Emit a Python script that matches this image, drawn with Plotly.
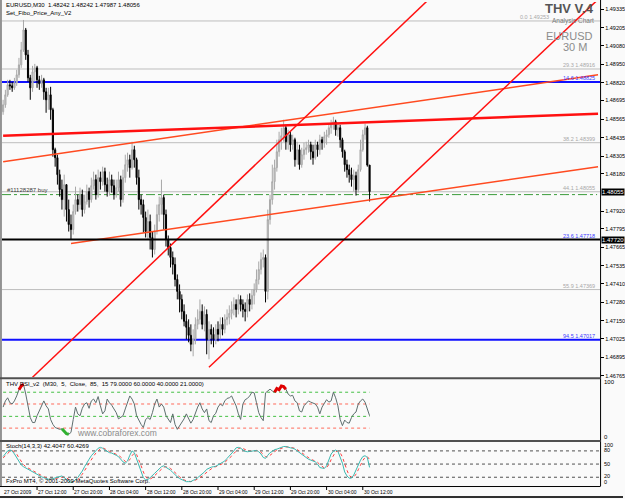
import pandas as pd
import plotly.graph_objects as go

W, H = 625, 499
def px(x): return x / W
def py(y): return 1 - y / H

# ---------------- data ----------------
times = pd.date_range("2009-10-27 04:30", periods=163, freq="30min")

opens = [1.48616, 1.48665, 1.48735, 1.48805, 1.48798, 1.48784, 1.48819, 1.48875, 1.48945, 1.49050,
 1.49190, 1.49015, 1.48854, 1.48784, 1.48896, 1.48924, 1.48840, 1.48812, 1.48840, 1.48756,
 1.48700, 1.48735, 1.48630, 1.48350, 1.48294, 1.48175, 1.48070, 1.48000, 1.48105, 1.47930,
 1.47825, 1.47790, 1.47916, 1.48000, 1.47965, 1.48035, 1.47930, 1.47986, 1.48056, 1.48000,
 1.48098, 1.48140, 1.48035, 1.48154, 1.48126, 1.48196, 1.48105, 1.48056, 1.48140, 1.48098,
 1.48035, 1.48084, 1.48140, 1.48000, 1.48154, 1.48245, 1.48280, 1.48224, 1.48350, 1.48280,
 1.48154, 1.48000, 1.47965, 1.47874, 1.47776, 1.47846, 1.47734, 1.47650, 1.47776, 1.47895,
 1.47965, 1.48014, 1.47895, 1.47720, 1.47664, 1.47594, 1.47545, 1.47440, 1.47356, 1.47300,
 1.47216, 1.47146, 1.47104, 1.47048, 1.46985, 1.47020, 1.47125, 1.47160, 1.47216, 1.47125,
 1.47195, 1.47020, 1.47090, 1.47055, 1.47020, 1.47090, 1.47055, 1.47125, 1.47090, 1.47160,
 1.47174, 1.47202, 1.47230, 1.47265, 1.47230, 1.47300, 1.47265, 1.47230, 1.47216, 1.47300,
 1.47265, 1.47328, 1.47370, 1.47440, 1.47510, 1.47580, 1.47594, 1.47356, 1.47860, 1.48000,
 1.48126, 1.48224, 1.48336, 1.48420, 1.48448, 1.48504, 1.48406, 1.48455, 1.48385, 1.48420,
 1.48280, 1.48350, 1.48245, 1.48315, 1.48350, 1.48364, 1.48385, 1.48336, 1.48294, 1.48385,
 1.48350, 1.48420, 1.48399, 1.48441, 1.48455, 1.48504, 1.48532, 1.48546, 1.48490, 1.48504,
 1.48420, 1.48336, 1.48245, 1.48210, 1.48175, 1.48140, 1.48168, 1.48070, 1.48210, 1.48350,
 1.48455, 1.48504, 1.48242]

closes = [1.48665, 1.48735, 1.48805, 1.48798, 1.48784, 1.48819, 1.48875, 1.48945, 1.49050, 1.49190,
 1.49015, 1.48854, 1.48784, 1.48896, 1.48924, 1.48840, 1.48812, 1.48840, 1.48756, 1.48700,
 1.48735, 1.48630, 1.48350, 1.48294, 1.48175, 1.48070, 1.48000, 1.48105, 1.47930, 1.47825,
 1.47790, 1.47916, 1.48000, 1.47965, 1.48035, 1.47930, 1.47986, 1.48056, 1.48000, 1.48098,
 1.48140, 1.48035, 1.48154, 1.48126, 1.48196, 1.48105, 1.48056, 1.48140, 1.48098, 1.48035,
 1.48084, 1.48140, 1.48000, 1.48154, 1.48245, 1.48280, 1.48224, 1.48350, 1.48280, 1.48154,
 1.48000, 1.47965, 1.47874, 1.47776, 1.47846, 1.47734, 1.47650, 1.47776, 1.47895, 1.47965,
 1.48014, 1.47895, 1.47720, 1.47664, 1.47594, 1.47545, 1.47440, 1.47356, 1.47300, 1.47216,
 1.47146, 1.47104, 1.47048, 1.46985, 1.47020, 1.47125, 1.47160, 1.47216, 1.47125, 1.47195,
 1.47020, 1.47090, 1.47055, 1.47020, 1.47090, 1.47055, 1.47125, 1.47090, 1.47160, 1.47174,
 1.47202, 1.47230, 1.47265, 1.47230, 1.47300, 1.47265, 1.47230, 1.47216, 1.47300, 1.47265,
 1.47328, 1.47370, 1.47440, 1.47510, 1.47580, 1.47594, 1.47356, 1.47860, 1.48000, 1.48126,
 1.48224, 1.48336, 1.48420, 1.48448, 1.48504, 1.48406, 1.48455, 1.48385, 1.48420, 1.48280,
 1.48350, 1.48245, 1.48315, 1.48350, 1.48364, 1.48385, 1.48336, 1.48294, 1.48385, 1.48350,
 1.48420, 1.48399, 1.48441, 1.48455, 1.48504, 1.48532, 1.48546, 1.48490, 1.48504, 1.48420,
 1.48336, 1.48245, 1.48210, 1.48175, 1.48140, 1.48168, 1.48070, 1.48210, 1.48350, 1.48455,
 1.48504, 1.48242, 1.48056]

highs = [1.48700, 1.48770, 1.48840, 1.48840, 1.48826, 1.48854, 1.48910, 1.48994, 1.49106, 1.49260,
 1.49204, 1.49050, 1.48875, 1.48938, 1.48952, 1.48938, 1.48868, 1.48875, 1.48854, 1.48784,
 1.48784, 1.48791, 1.48644, 1.48364, 1.48315, 1.48210, 1.48140, 1.48175, 1.48105, 1.48000,
 1.47895, 1.47965, 1.48091, 1.48035, 1.48084, 1.48070, 1.48035, 1.48105, 1.48084, 1.48154,
 1.48196, 1.48175, 1.48210, 1.48196, 1.48231, 1.48224, 1.48154, 1.48196, 1.48175, 1.48140,
 1.48140, 1.48196, 1.48168, 1.48210, 1.48315, 1.48329, 1.48315, 1.48406, 1.48378, 1.48294,
 1.48210, 1.48035, 1.48000, 1.47916, 1.47930, 1.47895, 1.47776, 1.47825, 1.47965, 1.48021,
 1.48140, 1.48035, 1.47930, 1.47748, 1.47692, 1.47636, 1.47594, 1.47475, 1.47405, 1.47335,
 1.47265, 1.47195, 1.47160, 1.47125, 1.47090, 1.47174, 1.47230, 1.47300, 1.47265, 1.47251,
 1.47230, 1.47146, 1.47125, 1.47104, 1.47125, 1.47146, 1.47174, 1.47174, 1.47195, 1.47230,
 1.47258, 1.47286, 1.47314, 1.47300, 1.47335, 1.47328, 1.47300, 1.47279, 1.47335, 1.47342,
 1.47370, 1.47412, 1.47510, 1.47566, 1.47629, 1.47650, 1.47615, 1.47930, 1.48035, 1.48245,
 1.48280, 1.48420, 1.48476, 1.48504, 1.48560, 1.48525, 1.48490, 1.48476, 1.48455, 1.48434,
 1.48406, 1.48385, 1.48364, 1.48399, 1.48406, 1.48420, 1.48406, 1.48385, 1.48420, 1.48406,
 1.48455, 1.48441, 1.48476, 1.48490, 1.48532, 1.48560, 1.48581, 1.48560, 1.48539, 1.48525,
 1.48434, 1.48350, 1.48280, 1.48245, 1.48224, 1.48210, 1.48196, 1.48245, 1.48420, 1.48490,
 1.48532, 1.48518, 1.48242]

lows = [1.48595, 1.48644, 1.48721, 1.48770, 1.48756, 1.48770, 1.48798, 1.48854, 1.48924, 1.49036,
 1.48980, 1.48826, 1.48700, 1.48756, 1.48826, 1.48784, 1.48770, 1.48784, 1.48700, 1.48609,
 1.48630, 1.48560, 1.48301, 1.48231, 1.48105, 1.48021, 1.47930, 1.47881, 1.47846, 1.47776,
 1.47720, 1.47755, 1.47895, 1.47916, 1.47930, 1.47881, 1.47902, 1.47965, 1.47944, 1.47979,
 1.48070, 1.48000, 1.48014, 1.48070, 1.48098, 1.48056, 1.48021, 1.48028, 1.48049, 1.48000,
 1.48014, 1.48056, 1.47951, 1.47979, 1.48119, 1.48196, 1.48154, 1.48210, 1.48224, 1.48105,
 1.47930, 1.47895, 1.47769, 1.47734, 1.47720, 1.47650, 1.47594, 1.47615, 1.47755, 1.47846,
 1.47895, 1.47790, 1.47671, 1.47608, 1.47524, 1.47475, 1.47391, 1.47300, 1.47209, 1.47160,
 1.47111, 1.47020, 1.46999, 1.46936, 1.46901, 1.46985, 1.47090, 1.47125, 1.47090, 1.47076,
 1.46915, 1.46880, 1.46985, 1.46964, 1.46985, 1.47006, 1.47020, 1.47048, 1.47062, 1.47118,
 1.47125, 1.47160, 1.47188, 1.47174, 1.47195, 1.47216, 1.47174, 1.47146, 1.47174, 1.47216,
 1.47230, 1.47265, 1.47349, 1.47405, 1.47475, 1.47524, 1.47279, 1.47300, 1.47825, 1.47965,
 1.48070, 1.48196, 1.48301, 1.48350, 1.48406, 1.48350, 1.48350, 1.48336, 1.48350, 1.48231,
 1.48245, 1.48210, 1.48224, 1.48280, 1.48315, 1.48329, 1.48280, 1.48245, 1.48280, 1.48301,
 1.48315, 1.48350, 1.48364, 1.48385, 1.48434, 1.48462, 1.48490, 1.48448, 1.48441, 1.48364,
 1.48294, 1.48196, 1.48154, 1.48119, 1.48091, 1.48056, 1.48028, 1.48049, 1.48196, 1.48336,
 1.48420, 1.48231, 1.47987]

rsi = [55, 65, 70, 62, 60, 65, 73, 83, 89, 92,
 76, 57, 38, 30, 30, 41, 49, 55, 65, 57,
 52, 35, 27, 22, 20, 19, 20, 16, 12, 11,
 14, 35, 55, 44, 41, 53, 60, 62, 53, 65,
 68, 62, 72, 57, 44, 49, 68, 62, 58, 52,
 46, 36, 38, 41, 52, 62, 73, 68, 60, 41,
 33, 27, 22, 35, 38, 35, 46, 60, 68, 55,
 60, 55, 41, 35, 30, 44, 27, 19, 24, 30,
 36, 44, 35, 29, 35, 46, 55, 62, 52, 46,
 52, 33, 30, 41, 45, 55, 60, 57, 65, 69,
 70, 73, 65, 57, 44, 35, 60, 67, 69, 73,
 79, 78, 62, 46, 38, 33, 78, 81, 84, 81,
 79, 85, 83, 89, 88, 84, 76, 73, 74, 65,
 62, 49, 47, 57, 62, 65, 63, 62, 60, 55,
 44, 55, 62, 67, 63, 65, 79, 70, 57, 35,
 25, 34, 30, 29, 38, 44, 47, 60, 65, 68,
 63, 52, 41]
rsi_red_bars = [[7, 8, 9], [120, 121, 122, 123, 124, 125]]
rsi_green_bars = [[26, 27, 28, 29]]
rsi_levels_green = [79, 40]
rsi_levels_red = [60, 21]

stoch_main = [67, 75, 80, 82, 80, 73, 65, 55, 48, 44,
 41, 38, 36, 32, 29, 26, 23, 21, 19, 17,
 15.5, 15.5, 17, 19, 19, 22, 23, 19, 15, 11,
 8, 10, 14, 19, 27, 34, 44, 54, 61, 69,
 75, 80, 86, 88, 86, 82, 79, 76, 75, 73,
 70, 67, 61, 55, 52, 57, 70, 80, 76, 61,
 46, 31, 19, 14, 15, 19, 23, 29, 34, 40,
 44, 46, 43, 40, 36, 31, 25, 21, 17, 14,
 12, 10, 10, 10, 13, 15, 19, 23, 27, 32,
 38, 41, 43, 44, 45, 48, 51, 54, 57, 63,
 68, 73, 80, 87, 88, 86, 83, 79, 78, 79,
 80, 81, 81, 78, 73, 65, 63, 70, 76, 79,
 83, 84, 86, 88, 90, 90, 88, 87, 86, 84,
 80, 76, 73, 67, 64, 61, 59, 57, 55, 50,
 42, 41, 40, 46, 61, 73, 79, 82, 79, 67,
 52, 32, 23, 18, 18, 25, 37, 48, 59, 67,
 69, 65, 42.4]
stoch_signal = [64, 68, 74, 79, 81, 78, 73, 64, 56, 49,
 44, 41, 38, 35, 32, 29, 26, 23, 21, 19,
 17, 16, 16, 17, 18, 20, 21, 21, 19, 15,
 11, 10, 11, 14, 20, 27, 35, 44, 53, 61,
 68, 75, 80, 85, 87, 85, 82, 79, 77, 75,
 73, 70, 66, 61, 56, 55, 60, 69, 75, 72,
 61, 46, 32, 21, 16, 16, 19, 24, 29, 34,
 39, 43, 44, 43, 40, 36, 31, 26, 21, 17,
 14, 12, 11, 10, 11, 13, 16, 19, 23, 27,
 32, 37, 41, 43, 44, 46, 48, 51, 54, 58,
 63, 68, 74, 80, 85, 87, 86, 83, 80, 79,
 79, 80, 81, 80, 77, 72, 67, 66, 70, 75,
 79, 82, 84, 86, 88, 89, 89, 88, 87, 86,
 83, 80, 76, 72, 68, 64, 61, 59, 57, 54,
 49, 44, 41, 42, 49, 60, 71, 78, 80, 76,
 66, 50, 36, 24, 20, 20, 27, 37, 48, 58,
 65, 67, 60.4]
stoch_levels = [80, 50, 20]

price_ticks = ["1.49335", "1.49205", "1.49080", "1.48950", "1.48820", "1.48695", "1.48565",
               "1.48435", "1.48305", "1.48180", "1.47920", "1.47795", "1.47665",
               "1.47535", "1.47410", "1.47280", "1.47150", "1.47025", "1.46895", "1.46765"]
marked_prices = ["1.48055", "1.47720"]

fib_prices = [1.49253, 1.48916, 1.48825, 1.48399, 1.48055, 1.47718, 1.47369, 1.47017]
fib_texts = ["0.0 1.49253", "29.3 1.48916", "14.6 1.48825", "38.2 1.48399",
             "44.1 1.48055", "23.6 1.47718", "55.9 1.47369", "94.5 1.47017"]
fib_blue = [False, False, True, False, False, True, False, True]
blue_levels = [1.48825, 1.47017]
black_level = 1.47720
order_price = 1.48035

trend_thick = (["2009-10-27 04:30", "2009-11-01 16:00"], [1.48448, 1.48602])
trend_upper = (["2009-10-27 04:30", "2009-11-01 16:00"], [1.48266, 1.48875])
trend_lower = (["2009-10-27 19:30", "2009-11-01 16:00"], [1.47692, 1.48231])
ray_left = (["2009-10-27 11:00", "2009-10-31 03:30"], [1.46754, 1.49432])
ray_right = (["2009-10-29 02:00", "2009-11-01 16:30"], [1.46824, 1.49419])

time_ticks = ["2009-10-27 04:30", "2009-10-27 12:00", "2009-10-27 20:00", "2009-10-28 04:00",
              "2009-10-28 12:00", "2009-10-28 20:00", "2009-10-29 04:00", "2009-10-29 12:00",
              "2009-10-29 20:00", "2009-10-30 04:00", "2009-10-30 12:00"]
time_labels = ["27 Oct 2009", "27 Oct 12:00", "27 Oct 20:00", "28 Oct 04:00", "28 Oct 12:00",
               "28 Oct 20:00", "29 Oct 04:00", "29 Oct 12:00", "29 Oct 20:00", "30 Oct 04:00",
               "30 Oct 12:00"]

x_range = ["2009-10-27 04:15", "2009-11-01 16:27"]
y_range = [1.46754, 1.49386]

FONT = "Liberation Sans"
BG = "#FAFAFA"

fig = go.Figure()

shapes = []
for p, blue in zip(fib_prices, fib_blue):
    if not blue:
        shapes.append(dict(type="line", xref="x domain", yref="y", x0=0, x1=1, y0=p, y1=p,
                           line=dict(color="#BDBDBD", width=1), layer="below"))
for p in blue_levels:
    shapes.append(dict(type="line", xref="x domain", yref="y", x0=0, x1=1, y0=p, y1=p,
                       line=dict(color="#1010FF", width=2), layer="below"))
shapes.append(dict(type="line", xref="x domain", yref="y", x0=0, x1=0.995, y0=order_price, y1=order_price,
                   line=dict(color="#3C9C3C", width=1, dash="dashdot"), layer="below"))
shapes.append(dict(type="line", xref="x domain", yref="y", x0=0, x1=1, y0=black_level, y1=black_level,
                   line=dict(color="#000000", width=2)))
for lv in stoch_levels:
    shapes.append(dict(type="line", xref="x3 domain", yref="y3", x0=0, x1=1, y0=lv, y1=lv,
                       line=dict(color="#505050", width=1, dash="dot"), layer="below"))

fig.add_trace(go.Candlestick(
    x=times, open=opens, high=highs, low=lows, close=closes,
    increasing=dict(line=dict(color="#A8A8A8", width=1), fillcolor="#D4D4D4"),
    decreasing=dict(line=dict(color="#000000", width=1), fillcolor="#000000"),
    whiskerwidth=0, showlegend=False, hoverinfo="skip", xaxis="x", yaxis="y"))

for (t, p), col, wd in [(trend_upper, "#FF4A20", 1.5), (trend_lower, "#FF4A20", 1.5),
                        (trend_thick, "#FF1010", 2.5), (ray_left, "#FF1010", 1.5),
                        (ray_right, "#FF1010", 1.5)]:
    fig.add_trace(go.Scatter(x=t, y=p, mode="lines", line=dict(color=col, width=wd),
                             showlegend=False, hoverinfo="skip", xaxis="x", yaxis="y"))

# RSI panel
t_span = [times[0], times[-1]]
for lv in rsi_levels_green:
    fig.add_trace(go.Scatter(x=t_span, y=[lv, lv], mode="lines",
                             line=dict(color="#44C044", width=1, dash="dot"),
                             showlegend=False, hoverinfo="skip", xaxis="x2", yaxis="y2"))
for lv in rsi_levels_red:
    fig.add_trace(go.Scatter(x=t_span, y=[lv, lv], mode="lines",
                             line=dict(color="#FF6A5A", width=1, dash="dot"),
                             showlegend=False, hoverinfo="skip", xaxis="x2", yaxis="y2"))
fig.add_trace(go.Scatter(x=times, y=rsi, mode="lines", line=dict(color="#5E6E6E", width=1),
                         showlegend=False, hoverinfo="skip", xaxis="x2", yaxis="y2"))
for seg in rsi_red_bars:
    fig.add_trace(go.Scatter(x=[times[i] for i in seg], y=[rsi[i] for i in seg], mode="lines",
                             line=dict(color="#E00000", width=3), showlegend=False,
                             hoverinfo="skip", xaxis="x2", yaxis="y2"))
for seg in rsi_green_bars:
    fig.add_trace(go.Scatter(x=[times[i] for i in seg], y=[rsi[i] for i in seg], mode="lines",
                             line=dict(color="#30B030", width=3), showlegend=False,
                             hoverinfo="skip", xaxis="x2", yaxis="y2"))

# Stochastic panel
fig.add_trace(go.Scatter(x=times, y=stoch_signal, mode="lines",
                         line=dict(color="#FF4040", width=1, dash="dot"),
                         showlegend=False, hoverinfo="skip", xaxis="x3", yaxis="y3"))
fig.add_trace(go.Scatter(x=times, y=stoch_main, mode="lines",
                         line=dict(color="#3CB8B0", width=1),
                         showlegend=False, hoverinfo="skip", xaxis="x3", yaxis="y3"))

def hline_px(y, x0, x1, color, width):
    shapes.append(dict(type="line", xref="paper", yref="paper", x0=px(x0), x1=px(x1),
                       y0=py(y), y1=py(y), line=dict(color=color, width=width)))
def vline_px(x, y0, y1, color, width):
    shapes.append(dict(type="line", xref="paper", yref="paper", x0=px(x), x1=px(x),
                       y0=py(y0), y1=py(y1), line=dict(color=color, width=width)))

vline_px(1, 0, 487, "#303030", 1)
vline_px(602.5, 0, 487, "#000000", 1)
hline_px(379, 0, 602.5, "#505050", 2)
hline_px(442, 0, 602.5, "#505050", 2)
hline_px(487.5, 0, 602.5, "#000000", 1)
hline_px(498, 0, 625, "#303030", 2)
for t in time_ticks[1:]:
    shapes.append(dict(type="line", xref="x3", yref="paper", x0=t, x1=t, y0=py(487.5), y1=py(491),
                       line=dict(color="#000000", width=1)))

annotations = []
def txt(x, y, s, size=6, color="#000000", anchor="left", yanchor="middle"):
    annotations.append(dict(xref="paper", yref="paper", x=px(x), y=py(y), text=s, showarrow=False,
                            xanchor=anchor, yanchor=yanchor,
                            font=dict(family=FONT, size=size, color=color)))

# header texts
txt(4, 5, "EURUSD,M30  1.48242 1.48242 1.47987 1.48056")
txt(4, 13, "Set_Fibo_Price_Any_V2")
txt(598, 9, "<b>THV V.4</b>", size=13, color="#555555", anchor="right")
txt(598, 21.5, "Analysis Chart", size=6.5, color="#7A7A7A", anchor="right")
txt(597, 36, "EURUSD", size=11, color="#8C8C8C", anchor="right")
txt(591, 47, "30 M", size=11, color="#8C8C8C", anchor="right")
txt(5, 190, "#11128287 buy", color="#404040")

# fib labels
for p, s, blue in zip(fib_prices, fib_texts, fib_blue):
    xr = 553 if p == 1.49253 else 599
    annotations.append(dict(xref="paper", yref="y", x=px(xr), y=p, text=s, showarrow=False,
                            xanchor="right", yanchor="bottom", yshift=-1,
                            font=dict(family=FONT, size=5.5, color="#3A3AFF" if blue else "#A8A8A8")))

# highlighted price labels
for s in marked_prices:
    annotations.append(dict(xref="paper", yref="y", x=px(603), y=float(s), text=s, showarrow=False,
                            xanchor="left", yanchor="middle", bgcolor="#000000", borderpad=0,
                            font=dict(family=FONT, size=6, color="#FFFFFF")))

# RSI panel texts
txt(4, 385, "THV RSI_v2  (M30,  5,  Close,  85,  15 79.0000 60.0000 40.0000 21.0000)")
txt(75, 434, "www.cobraforex.com", size=8.5, color="#8A8A8A")
txt(604, 383, "100")
txt(604, 438, "0")
# Stoch panel texts
txt(4, 447, "Stoch(14,3,3) 42.4047 60.4269")
txt(4, 482, "FxPro MT4, © 2001-2009 MetaQuotes Software Corp.")
for s, y in [("100", 445.5), ("80", 451), ("50", 465), ("20", 477), ("0", 483)]:
    txt(604, y, s, size=5.5)

# time labels
for t, s in zip(time_ticks, time_labels):
    annotations.append(dict(xref="x3", yref="paper", x=t, y=py(493), text=s, showarrow=False,
                            xanchor="left", yanchor="middle", xshift=-1,
                            font=dict(family=FONT, size=5, color="#000000")))

dom_x = [px(2), px(602)]
fig.update_layout(
    width=W, height=H, margin=dict(l=0, r=0, t=0, b=0),
    paper_bgcolor=BG, plot_bgcolor=BG, showlegend=False,
    xaxis=dict(domain=dom_x, range=x_range, type="date", visible=False,
               rangeslider=dict(visible=False), anchor="y"),
    yaxis=dict(domain=[py(378), py(2)], range=y_range, side="right", anchor="x",
               tickvals=[float(v) for v in price_ticks], ticktext=price_ticks,
               ticks="outside", ticklen=3, tickcolor="#000000", tickwidth=1,
               tickfont=dict(family=FONT, size=5.5, color="#000000"),
               showgrid=False, zeroline=False, showline=False),
    xaxis2=dict(domain=dom_x, range=x_range, type="date", visible=False, anchor="y2", matches="x"),
    yaxis2=dict(domain=[py(442), py(380)], range=[0, 100], visible=False, anchor="x2"),
    xaxis3=dict(domain=dom_x, range=x_range, type="date", visible=False, anchor="y3", matches="x"),
    yaxis3=dict(domain=[py(487), py(443)], range=[0, 100], visible=False, anchor="x3"),
    shapes=shapes, annotations=annotations,
)

fig.write_html("out.html")
